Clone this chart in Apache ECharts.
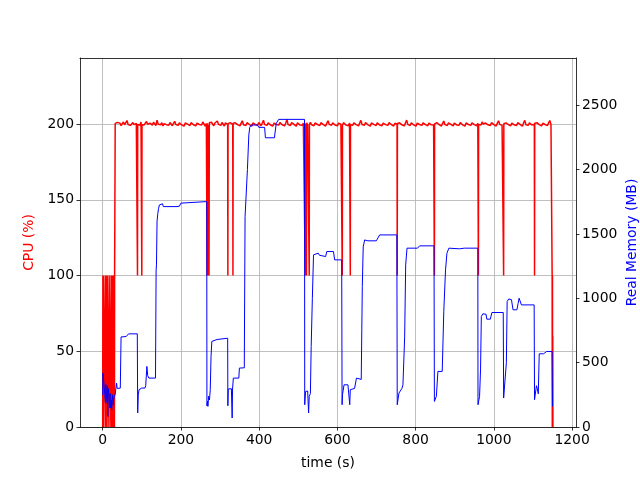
<!DOCTYPE html>
<html>
<head>
<meta charset="utf-8">
<script src="https://cdn.jsdelivr.net/npm/echarts@6/dist/echarts.min.js"></script>
<style>html,body{margin:0;padding:0;background:#fff}#c{width:640px;height:480px}</style>
</head>
<body>
<div id="c"></div>
<script>
// x ticks and y ticks
const xTicks = [0, 200, 400, 600, 800, 1000, 1200];
const cpuTicks = [0, 50, 100, 150, 200];
const memTicks = [0, 500, 1000, 1500, 2000, 2500];

// CPU (%) samples: [time (s), cpu %]
const cpuPoints = [
 [0,0],[0.5,100],[1.5,101],[2,0],[2.5,100],[4.5,101],[6.5,100],[7,0],[7.5,100],[9,101],[10.5,100],[11,0],[11.5,100],[13,101],[15.5,100],[16,0],[16.5,100],[18.5,101],[20.5,100],[21,0],[21.5,100],[23.5,101],[24,0],[24.5,100],[26.5,101],[27,0],[27.5,100],[29.5,100],[30,0],[30.5,101],[31.5,100],
 [32,200.4],[35,199.3],[38,201.1],[41,199.8],[44,200.6],[47,198.9],[50,200.2],[53,201.4],[56,199.5],[59,200.0],[62,202.3],[65,199.7],[68,200.8],[71,199.1],[74,200.3],[77,201.0],[80,199.6],[83,198.6],[86,200.5],[88.5,200.9],[89,100],[89.5,199.8],[92,200.7],[95,199.2],[98,201.3],[99.5,200.1],[100,100],[100.5,199.6],
 [103,200.8],[106,199.4],[109,200.2],[112,201.7],[115,199.9],[118,198.8],[121,200.6],[124,200.1],[127,199.3],[130,201.2],[133,200.4],[136,199.0],[139,202.6],[142,199.8],[145,200.5],[148,199.5],[151,200.9],[154,198.7],[157,200.3],[160,201.5],[163,199.6],[166,200.0],[169,199.2],[172,201.0],[175,200.6],[178,198.9],[181,200.2],[184,201.8],[187,199.7],[190,200.4],[193,199.1],[196,200.8],[199,202.1],[202,199.4],[205,200.1],[208,198.6],[211,200.7],[214,201.3],[217,199.9],[220,200.2],[223,199.0],[226,200.9],[229,201.6],[232,199.5],[235,200.3],[238,198.8],[241,200.6],[244,201.1],[247,199.7],[250,200.0],[253,199.3],[256,201.4],[259,200.5],[262,198.7],[265,200.4],[266.5,199.9],
 [267,100],[267.6,200.6],[268.8,100],[269.6,199.4],[271.8,100],[272.6,200.8],
 [275,199.6],[278,201.2],[281,200.1],[284,198.9],[287,200.7],[290,199.5],[293,202.0],[296,199.8],[299,200.4],[302,199.1],[305,201.0],[308,200.2],[311,198.7],[314,200.8],[317,201.5],[319.5,199.7],[320,100],[320.5,200.3],[323,199.2],[326,200.9],[329,201.3],[332.5,199.8],[333,100],[333.5,200.5],
 [336,199.4],[339,200.8],[342,201.6],[345,199.6],[348,200.1],[351,198.8],[354,200.6],[357,202.2],[360,199.5],[363,200.3],[366,199.0],[369,200.9],[372,201.2],[375,199.7],[378,200.2],[381,198.6],[384,200.7],[387,201.4],[390,199.8],[393,200.4],[396,199.2],[399,201.0],[402,200.5],[405,198.9],[408,200.1],[411,202.5],[414,199.6],[417,200.3],[420,199.1],[423,200.8],[426,201.3],[429,199.4],[432,200.0],[435,198.7],[438,200.6],[441,201.8],[444,199.7],[447,200.2],[450,199.3],[453,200.9],[456,201.1],[459,199.5],[462,200.4],[465,198.8],[468,200.7],[471,203.0],[474,199.6],[477,200.1],[480,199.0],[483,201.0],[486,201.5],[489,199.8],[492,200.3],[495,198.6],[498,200.8],[501,201.2],[504,199.4],[507,200.0],[510,199.2],[513,200.6],[516,201.4],[517.5,199.9],
 [518,100],[518.5,200.4],[520.5,199.6],[521,100],[521.5,200.9],[524,199.3],[527.5,200.6],[528,100],[528.5,199.8],
 [531,201.2],[534,199.5],[537,200.3],[540,198.9],[543,200.7],[546,201.6],[549,199.7],[552,200.2],[555,199.0],[558,200.9],[561,201.3],[564,199.6],[567,200.0],[570,198.7],[573,200.5],[576,202.1],[579,199.8],[582,200.4],[585,199.2],[588,200.8],[591,201.0],[594,199.4],[597,200.1],[600,198.8],[603,200.6],[606,201.7],[609,199.9],[612,200.3],[612.5,100],[613,199.5],[616,200.9],[619,201.4],[622,199.3],[625,200.2],[628,198.9],[631,200.7],[632.5,201.1],[633,100],[633.5,199.7],
 [636,200.5],[639,199.1],[642,200.8],[645,201.5],[648,199.6],[651,200.0],[654,198.8],[657,200.6],[660,202.4],[663,199.7],[666,200.3],[669,199.2],[672,200.9],[675,201.2],[678,199.5],[681,200.1],[684,198.6],[687,200.7],[690,201.6],[693,199.8],[696,200.4],[699,199.0],[702,200.8],[705,201.3],[708,199.4],[711,200.2],[714,198.9],[717,200.6],[720,201.9],[723,199.6],[726,200.0],[729,199.1],[732,200.9],[735,201.0],[738,199.7],[741,200.3],[744,198.7],[747,200.5],[750,201.4],[752.5,199.9],[753,100],[753.5,200.4],
 [756,199.2],[759,200.8],[762,201.5],[765,199.5],[768,200.2],[771,198.8],[774,200.7],[777,202.6],[780,199.8],[783,200.1],[786,199.0],[789,200.9],[792,201.2],[795,199.4],[798,200.4],[801,198.6],[804,200.6],[807,201.8],[810,199.7],[813,200.3],[816,199.1],[819,200.8],[822,201.1],[825,199.6],[828,200.0],[831,198.9],[834,200.7],[837,201.4],[840,199.5],[843,200.2],[846,199.3],[847.5,200.6],[848,100],[848.5,200.1],
 [851,199.4],[854,200.9],[857,201.3],[860,199.7],[863,200.2],[866,198.7],[869,200.5],[872,202.0],[875,199.6],[878,200.4],[881,199.0],[884,200.8],[887,201.5],[890,199.8],[893,200.1],[896,198.8],[899,200.6],[902,201.2],[905,199.4],[908,200.3],[911,199.2],[914,200.9],[917,201.7],[920,199.5],[923,200.0],[926,198.6],[929,200.7],[932,201.0],[935,199.7],[938,200.4],[941,199.1],[944,200.8],[947,201.6],[950,199.6],[953,200.2],[956,198.9],[959,200.5],[960,201.1],[960.5,100],[961,199.8],
 [964,200.6],[967,199.3],[970,201.4],[973,200.0],[976,198.8],[979,200.7],[982,201.8],[985,199.5],[988,200.3],[991,199.1],[994,200.9],[997,201.2],[1000,199.6],[1003,200.1],[1006,198.7],[1009,200.6],[1012,202.2],[1015,199.8],[1018,200.4],[1021,199.2],[1024.5,200.5],[1025,100],[1025.5,200.2],
 [1028,199.4],[1031,200.8],[1034,201.5],[1037,199.7],[1040,200.2],[1043,198.9],[1046,200.6],[1049,201.3],[1052,199.5],[1055,200.0],[1058,199.0],[1061,200.9],[1064,201.6],[1067,199.8],[1070,200.3],[1073,198.6],[1076,200.7],[1079,202.4],[1082,199.6],[1085,200.1],[1088,199.2],[1091,200.8],[1094,201.1],[1097,199.4],[1100,200.4],[1103.5,199.9],[1104,100],[1104.5,200.6],
 [1107,199.3],[1110,200.9],[1113,201.7],[1116,199.6],[1119,200.2],[1122,198.8],[1125,200.5],[1128,201.2],[1131,199.7],[1134,200.3],[1137,199.0],[1140,200.8],[1143,202.3],[1146,199.8],[1148.5,200.4],
 [1149,100],[1149.4,0],[1149.8,100],[1150.2,0],[1150.6,60],[1151,0]
];

// Real memory (MB) samples: [time (s), MB]
const memPoints = [
 [0,250],[0.5,419],[2,380],[3,344],[5,330],[6,344],[7,190],[8,330],[10,340],[11,186],[12,320],[13,82],[14,300],[16,250],[17,190],[18,150],[19,260],[20,150],[22,210],[23,135],[25,250],[27,170],[28,215],[30,238],[32,255],[34,270],[35.5,342],[37,300],[45,302],[47,700],[48.6,703],[60,703],[64,705],[66,724],[88.5,724],
 [89.5,109],[91,250],[93,290],[100,303],[108,303],[110,320],[113,471],[115,400],[118,380],[135,380],[136.6,1221],[137.5,1260],[139,1600],[141,1661],[143,1700],[145,1726],[150,1739],[153,1735],[155,1713],[190,1713],[196,1716],[200,1740],[204,1752],[266,1752],
 [266.5,165],[268,200],[269,160],[271,240],[273,210],[275,290],[277,550],[279,665],[282,680],[292,680],[294,690],[319.5,690],
 [320,165],[321,295],[329,298],[331,70],[332,295],[334,380],[348,380],[349.5,458],[362,460],[364,1635],[368,1640],[370,2000],[373.6,2269],[376,2330],[379.7,2347],[396,2347],[399,2329],[414,2329],[416,2248],[439,2248],[443.7,2360],[446,2370],[450,2391],[516,2391],
 [516.5,173],[518.6,276],[524,280],[526.4,109],[528,238],[531,260],[533,626],[536,1000],[539,1338],[543.5,1351],[551,1351],[554,1335],[558.8,1325],[570,1325],[573,1364],[590,1364],[593,1299],[611,1299],
 [612,173],[613,250],[617,328],[627,328],[631.6,173],[633,290],[634,300],[644,300],[648.7,380],[661,370],[663.7,1092],[666,1400],[669.7,1454],[678,1447],[699.6,1447],[708,1493],[752,1493],
 [753,173],[757.4,264],[765,300],[767.6,328],[770,330],[772,700],[774.6,1260],[778,1390],[805,1390],[810,1408],[847,1408],
 [848,199],[853,238],[857,432],[868,432],[872,900],[876.5,1221],[880,1350],[885,1390],[890,1385],[912,1385],[925,1390],[959,1390],
 [959.5,173],[963.5,238],[966,450],[968,859],[972,880],[980,876],[982,838],[991,838],[995,890],[1024,890],
 [1025,225],[1030,240],[1032,500],[1034,975],[1038,995],[1041,1001],[1045,990],[1049,911],[1059,911],[1062,960],[1064.5,1001],[1067,1000],[1070.5,949],[1103,949],
 [1104,212],[1107,280],[1109,321],[1111,300],[1113.6,258],[1116,569],[1127,569],[1135,587],[1149,587],[1150,160]
];

const FONT = 'DejaVu Sans';
const tickStyle = {color:'#000', width:0.8};
const plain = v => String(v);
const chart = echarts.init(document.getElementById('c'), null, {renderer:'canvas', width:640, height:480});
chart.setOption({
  backgroundColor:'#ffffff',
  animation:false,
  grid:{left:80, right:64, top:58, bottom:53, containLabel:false, outerBoundsMode:'none'},
  xAxis:[{
    type:'value', min:-58, max:1210, position:'bottom',
    axisLine:{show:true, onZero:false, lineStyle:tickStyle},
    axisTick:{show:true, customValues:xTicks, length:3.5, inside:false, lineStyle:tickStyle},
    axisLabel:{customValues:xTicks, formatter:plain, color:'#000', fontSize:13.9, fontFamily:FONT, margin:6},
    splitLine:{show:true, lineStyle:{color:'#b0b0b0', width:0.8}},
    name:'time (s)', nameLocation:'middle', nameGap:29,
    nameTextStyle:{color:'#000', fontSize:13.9, fontFamily:FONT}
  },{
    type:'value', min:-58, max:1210, position:'top',
    axisLine:{show:true, onZero:false, lineStyle:tickStyle},
    axisTick:{show:false}, axisLabel:{show:false}, splitLine:{show:false}
  }],
  yAxis:[{
    type:'value', min:0, max:243.6, position:'left',
    axisLine:{show:true, onZero:false, lineStyle:tickStyle},
    axisTick:{show:true, customValues:cpuTicks, length:3.5, lineStyle:tickStyle},
    axisLabel:{customValues:cpuTicks, formatter:plain, color:'#000', fontSize:13.9, fontFamily:FONT, margin:6},
    splitLine:{show:true, lineStyle:{color:'#b0b0b0', width:0.8}},
    name:'CPU (%)', nameLocation:'middle', nameGap:43, nameRotate:90,
    nameTextStyle:{color:'#ff0000', fontSize:13.9, fontFamily:FONT}
  },{
    type:'value', min:0, max:2868, position:'right',
    axisLine:{show:true, onZero:false, lineStyle:tickStyle},
    axisTick:{show:true, customValues:memTicks, length:3.5, lineStyle:tickStyle},
    axisLabel:{customValues:memTicks, formatter:plain, color:'#000', fontSize:13.9, fontFamily:FONT, margin:6},
    splitLine:{show:false},
    name:'Real Memory (MB)', nameLocation:'middle', nameGap:56, nameRotate:90, nameMoveOverlap:false,
    nameTextStyle:{color:'#0000ff', fontSize:13.9, fontFamily:FONT, verticalAlign:'middle'}
  }],
  series:[{
    name:'CPU', type:'line', xAxisIndex:0, yAxisIndex:0, data:cpuPoints,
    showSymbol:false, symbol:'none', lineStyle:{color:'#ff0000', width:1.5}, itemStyle:{color:'#ff0000'}, z:2
  },{
    name:'Memory', type:'line', xAxisIndex:0, yAxisIndex:1, data:memPoints,
    showSymbol:false, symbol:'none', lineStyle:{color:'#0000ff', width:1}, itemStyle:{color:'#0000ff'}, z:3
  }]
});
</script>
</body>
</html>
